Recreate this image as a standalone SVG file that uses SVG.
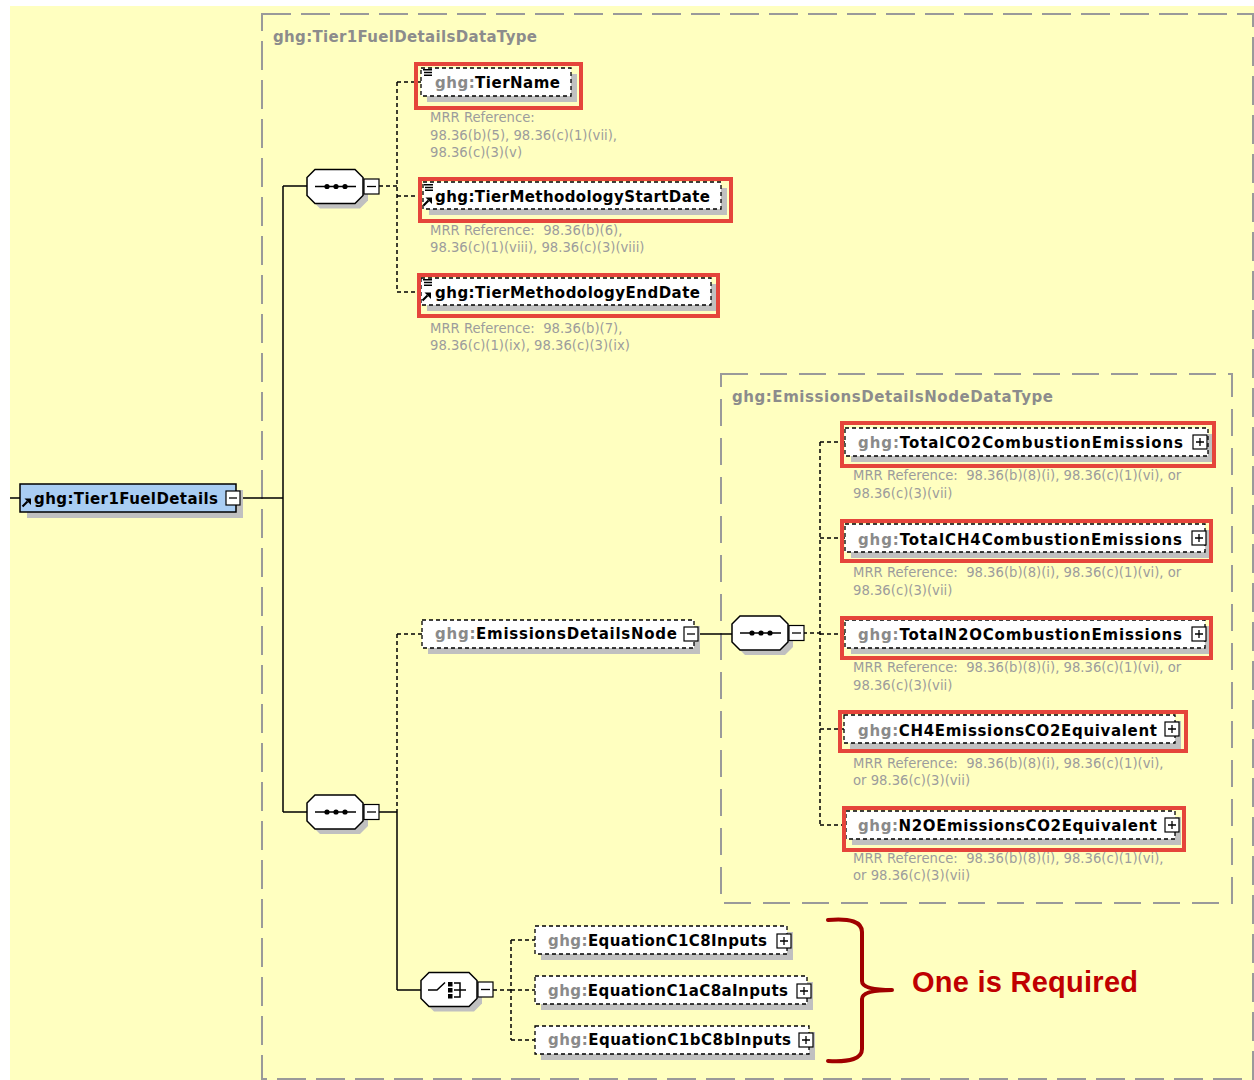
<svg xmlns="http://www.w3.org/2000/svg" width="1254" height="1080" viewBox="0 0 1254 1080">
<style>
.lbl{font-family:"DejaVu Sans",sans-serif;font-weight:bold;font-size:15px;fill:#000}
.pre{fill:#8a8a8a}
.ttl{font-family:"DejaVu Sans",sans-serif;font-weight:bold;font-size:15px;fill:#8c8c8c}
.mrr{font-family:"DejaVu Sans",sans-serif;font-size:13.2px;fill:#9c9c9c}
.dbox{fill:#fff;stroke:#000;stroke-width:1.3;stroke-dasharray:4 3}
.sbox{fill:#a9cdf3;stroke:#000;stroke-width:1.5}
.shd{fill:#c0c0c0}
.red{fill:none;stroke:#e5453b;stroke-width:4}
.pm{fill:#fff;stroke:#000;stroke-width:1.2}
.pml{stroke:#000;stroke-width:1.3;fill:none}
.ln{stroke:#000;stroke-width:1.5;fill:none}
.dl{stroke:#000;stroke-width:1.5;fill:none;stroke-dasharray:4 3}
.frame{fill:none;stroke:#9a9a9a;stroke-width:2}
.ico{stroke:#000;stroke-width:1.4;fill:none}
</style>
<defs>
<g id="oct">
<polygon class="shd" points="13,5 53,5 61,13 61,31 53,39 13,39 5,31 5,13"/>
<polygon fill="#fff" stroke="#000" stroke-width="1.5" points="8,0 48,0 56,8 56,26 48,34 8,34 0,26 0,8"/>
<rect class="pm" x="57" y="9.5" width="15" height="15"/>
<path class="pml" d="M60 17H69"/>
</g>
<g id="seqIcon">
<path class="ln" d="M8 17H49"/>
<circle cx="20" cy="17" r="2.6"/>
<circle cx="29" cy="17" r="2.6"/>
<circle cx="38" cy="17" r="2.6"/>
</g>
<g id="lines3">
<path class="ico" d="M0 0.7H9M1 3.5H9M1 6.3H9"/>
</g>
<g id="arrow">
<path stroke="#000" stroke-width="2.2" d="M0.5 8.5L5.5 3.5"/>
<polygon points="2.5,0.5 9,0.5 9,7"/>
</g>
<g id="plus">
<rect class="pm" x="0" y="0" width="14" height="14"/>
<path class="pml" d="M3 7H11M7 3V11"/>
</g>
<g id="minus">
<rect class="pm" x="0" y="0" width="14" height="14"/>
<path class="pml" d="M3 7H11"/>
</g>
</defs>

<rect x="10" y="6" width="1244" height="1074" fill="#ffffc0"/>
<rect class="frame" x="262" y="14" width="991" height="1065" stroke-dasharray="29 10"/>
<text class="ttl" x="273" y="42" textLength="264">ghg:Tier1FuelDetailsDataType</text>
<rect class="frame" x="721" y="374" width="511" height="529" stroke-dasharray="27 12"/>
<text class="ttl" x="732" y="402" textLength="321">ghg:EmissionsDetailsNodeDataType</text>

<g id="connectors">
<path class="ln" d="M10 498H21M240 498H283M283 186V812M283 186H307M283 812H307"/>
<path class="dl" d="M379 186H397M397 82V292M397 82H421M397 196H423M397 292H421"/>
<path class="ln" d="M379 812H397M397 812V990M397 990H421"/>
<path class="dl" d="M397 634V812M397 634H422"/>
<path class="ln" d="M698 634H732"/>
<path class="dl" d="M803 633H820M820 442V825M820 442H845M820 538H845M820 634H845M820 729H844M820 825H846"/>
<path class="dl" d="M493 990H511M511 940V1040M511 940H535M511 990H535M511 1040H535"/>
</g>

<g id="root">
<rect class="shd" x="27" y="490" width="216" height="28"/>
<rect class="sbox" x="20" y="484" width="216" height="28"/>
<use href="#arrow" x="22" y="498"/>
<text class="lbl" x="34" y="504" textLength="184">ghg:Tier1FuelDetails</text>
<use href="#minus" x="226" y="491"/>
</g>

<g id="seq1">
<use href="#oct" x="307" y="169.5"/>
<use href="#seqIcon" x="307" y="169.5"/>
</g>
<g id="seq2">
<use href="#oct" x="307" y="795"/>
<use href="#seqIcon" x="307" y="795"/>
</g>
<g id="seq3">
<use href="#oct" x="732" y="616"/>
<use href="#seqIcon" x="732" y="616"/>
</g>
<g id="choice">
<use href="#oct" x="421" y="972.5"/>
<g transform="translate(421,972.5)">
<path class="ln" d="M7 17.5H16L24 10"/>
<rect x="27" y="9.5" width="4.5" height="4.5"/>
<rect x="27" y="15.5" width="4.5" height="4.5"/>
<rect x="27" y="21.5" width="4.5" height="4.5"/>
<path class="ln" d="M33 10.5H39V24.5H33M33 17.5H45"/>
</g>
</g>

<g id="TierName">
<rect class="shd" x="427" y="74" width="150" height="28"/>
<rect class="dbox" x="421" y="68" width="150" height="28"/>
<use href="#lines3" x="423" y="69"/>
<text class="lbl" x="435" y="88" textLength="125"><tspan class="pre">ghg:</tspan>TierName</text>
<rect class="red" x="416" y="64" width="165" height="44"/>
<text class="mrr" x="430" y="122">MRR Reference:</text>
<text class="mrr" x="430" y="140">98.36(b)(5), 98.36(c)(1)(vii),</text>
<text class="mrr" x="430" y="157">98.36(c)(3)(v)</text>
</g>

<g id="TierMethodologyStartDate">
<rect class="shd" x="429" y="188" width="298" height="27"/>
<rect class="dbox" x="423" y="182" width="298" height="27"/>
<use href="#lines3" x="424" y="184"/>
<use href="#arrow" x="423" y="197"/>
<text class="lbl" x="435" y="202" textLength="275">ghg:TierMethodologyStartDate</text>
<rect class="red" x="420" y="179" width="311" height="42"/>
<text class="mrr" x="430" y="235" xml:space="preserve">MRR Reference:  98.36(b)(6),</text>
<text class="mrr" x="430" y="252">98.36(c)(1)(viii), 98.36(c)(3)(viii)</text>
</g>

<g id="TierMethodologyEndDate">
<rect class="shd" x="427" y="284" width="290" height="27"/>
<rect class="dbox" x="421" y="278" width="290" height="27"/>
<use href="#lines3" x="423" y="279"/>
<use href="#arrow" x="422" y="292"/>
<text class="lbl" x="435" y="298" textLength="265">ghg:TierMethodologyEndDate</text>
<rect class="red" x="419" y="275" width="299" height="41"/>
<text class="mrr" x="430" y="333" xml:space="preserve">MRR Reference:  98.36(b)(7),</text>
<text class="mrr" x="430" y="350">98.36(c)(1)(ix), 98.36(c)(3)(ix)</text>
</g>

<g id="EmissionsDetailsNode">
<rect class="shd" x="428" y="626" width="272" height="28"/>
<rect class="dbox" x="422" y="620" width="272" height="28"/>
<text class="lbl" x="435" y="639" textLength="242"><tspan class="pre">ghg:</tspan>EmissionsDetailsNode</text>
<use href="#minus" x="684" y="627"/>
</g>

<g id="TotalCO2CombustionEmissions">
<rect class="shd" x="851" y="434" width="363" height="28"/>
<rect class="dbox" x="845" y="428" width="363" height="28"/>
<text class="lbl" x="858" y="448" textLength="325"><tspan class="pre">ghg:</tspan>TotalCO2CombustionEmissions</text>
<use href="#plus" x="1193" y="435"/>
<rect class="red" x="842" y="423" width="372" height="43"/>
<text class="mrr" x="853" y="480" xml:space="preserve">MRR Reference:  98.36(b)(8)(i), 98.36(c)(1)(vi), or</text>
<text class="mrr" x="853" y="498">98.36(c)(3)(vii)</text>
</g>

<g id="TotalCH4CombustionEmissions">
<rect class="shd" x="851" y="530" width="360" height="28"/>
<rect class="dbox" x="845" y="524" width="360" height="28"/>
<text class="lbl" x="858" y="545" textLength="324"><tspan class="pre">ghg:</tspan>TotalCH4CombustionEmissions</text>
<use href="#plus" x="1192" y="531"/>
<rect class="red" x="842" y="521" width="369" height="40"/>
<text class="mrr" x="853" y="577" xml:space="preserve">MRR Reference:  98.36(b)(8)(i), 98.36(c)(1)(vi), or</text>
<text class="mrr" x="853" y="595">98.36(c)(3)(vii)</text>
</g>

<g id="TotalN2OCombustionEmissions">
<rect class="shd" x="851" y="626" width="360" height="28"/>
<rect class="dbox" x="845" y="620" width="360" height="28"/>
<text class="lbl" x="858" y="640" textLength="324"><tspan class="pre">ghg:</tspan>TotalN2OCombustionEmissions</text>
<use href="#plus" x="1192" y="627"/>
<rect class="red" x="842" y="618" width="369" height="40"/>
<text class="mrr" x="853" y="672" xml:space="preserve">MRR Reference:  98.36(b)(8)(i), 98.36(c)(1)(vi), or</text>
<text class="mrr" x="853" y="690">98.36(c)(3)(vii)</text>
</g>

<g id="CH4EmissionsCO2Equivalent">
<rect class="shd" x="850" y="721" width="331" height="28"/>
<rect class="dbox" x="844" y="715" width="331" height="28"/>
<text class="lbl" x="858" y="736" textLength="299"><tspan class="pre">ghg:</tspan>CH4EmissionsCO2Equivalent</text>
<use href="#plus" x="1165" y="722"/>
<rect class="red" x="840" y="712" width="346" height="39"/>
<text class="mrr" x="853" y="768" xml:space="preserve">MRR Reference:  98.36(b)(8)(i), 98.36(c)(1)(vi),</text>
<text class="mrr" x="853" y="785">or 98.36(c)(3)(vii)</text>
</g>

<g id="N2OEmissionsCO2Equivalent">
<rect class="shd" x="852" y="817" width="329" height="28"/>
<rect class="dbox" x="846" y="811" width="329" height="28"/>
<text class="lbl" x="858" y="831" textLength="299"><tspan class="pre">ghg:</tspan>N2OEmissionsCO2Equivalent</text>
<use href="#plus" x="1165" y="818"/>
<rect class="red" x="844" y="808" width="340" height="42"/>
<text class="mrr" x="853" y="863" xml:space="preserve">MRR Reference:  98.36(b)(8)(i), 98.36(c)(1)(vi),</text>
<text class="mrr" x="853" y="880">or 98.36(c)(3)(vii)</text>
</g>

<g id="EquationC1C8Inputs">
<rect class="shd" x="541" y="932" width="252" height="28"/>
<rect class="dbox" x="535" y="926" width="252" height="28"/>
<text class="lbl" x="548" y="946" textLength="219"><tspan class="pre">ghg:</tspan>EquationC1C8Inputs</text>
<use href="#plus" x="777" y="934"/>
</g>

<g id="EquationC1aC8aInputs">
<rect class="shd" x="541" y="982" width="272" height="28"/>
<rect class="dbox" x="535" y="976" width="272" height="28"/>
<text class="lbl" x="548" y="996" textLength="240"><tspan class="pre">ghg:</tspan>EquationC1aC8aInputs</text>
<use href="#plus" x="797" y="984"/>
</g>

<g id="EquationC1bC8bInputs">
<rect class="shd" x="541" y="1032" width="274" height="28"/>
<rect class="dbox" x="535" y="1026" width="274" height="28"/>
<text class="lbl" x="548" y="1045" textLength="243"><tspan class="pre">ghg:</tspan>EquationC1bC8bInputs</text>
<use href="#plus" x="799" y="1033"/>
</g>

<g id="oneRequired">
<path d="M828 920Q862 917 862 932V981Q862 990 892 990Q862 990 862 999V1049Q862 1063 828 1061" fill="none" stroke="#a00000" stroke-width="4" stroke-linecap="round" stroke-linejoin="round"/>
<text x="912" y="992" font-family="'Liberation Sans',Arial,sans-serif" font-weight="bold" font-size="29px" fill="#c00000" textLength="226">One is Required</text>
</g>
</svg>
